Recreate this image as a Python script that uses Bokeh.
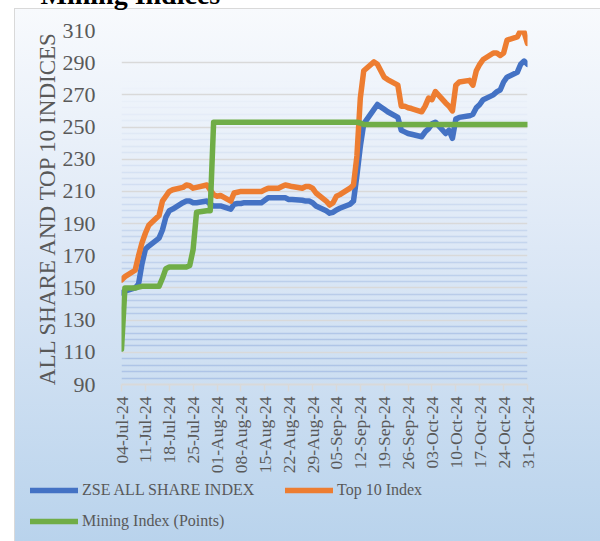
import math
import pandas as pd
from bokeh.plotting import figure
from bokeh.models import (Range1d, FixedTicker, DatetimeTickFormatter, Legend, LegendItem,
                          ColumnDataSource)
from bokeh.embed import file_html
from bokeh.resources import INLINE

# ---------------- data ----------------
dates = [
    "2024-07-04", "2024-07-05", "2024-07-08", "2024-07-09", "2024-07-10", "2024-07-11", "2024-07-12",
    "2024-07-15", "2024-07-16", "2024-07-17", "2024-07-18", "2024-07-19", "2024-07-22", "2024-07-23",
    "2024-07-24", "2024-07-25", "2024-07-26", "2024-07-29", "2024-07-30", "2024-07-31",
    "2024-08-01", "2024-08-02", "2024-08-05", "2024-08-06", "2024-08-07", "2024-08-08", "2024-08-09",
    "2024-08-14", "2024-08-15", "2024-08-16", "2024-08-19", "2024-08-20", "2024-08-21", "2024-08-22",
    "2024-08-23", "2024-08-26", "2024-08-27", "2024-08-28", "2024-08-29", "2024-08-30",
    "2024-09-02", "2024-09-03", "2024-09-04", "2024-09-05", "2024-09-06", "2024-09-09", "2024-09-10",
    "2024-09-11", "2024-09-12", "2024-09-13", "2024-09-16", "2024-09-17", "2024-09-18", "2024-09-19",
    "2024-09-20", "2024-09-23", "2024-09-24", "2024-09-25", "2024-09-26", "2024-09-27", "2024-09-30",
    "2024-10-01", "2024-10-02", "2024-10-03", "2024-10-04", "2024-10-07", "2024-10-08", "2024-10-09",
    "2024-10-10", "2024-10-11", "2024-10-14", "2024-10-15", "2024-10-16", "2024-10-17", "2024-10-18",
    "2024-10-21", "2024-10-22", "2024-10-23", "2024-10-24", "2024-10-25", "2024-10-28", "2024-10-29",
    "2024-10-30", "2024-10-31",
]

zse_all_share = [
    147, 148, 150, 152.5, 165, 174, 176, 181, 186, 194, 198, 199, 203, 204, 204, 203, 203, 204, 202, 201,
    201, 201, 199, 202, 202.5, 202.5, 203, 203, 204.5, 206, 206, 206, 206, 205, 205, 204.5, 204, 204, 203, 201,
    198, 196.5, 197, 198.5, 199.5, 202, 204, 220, 238, 252, 261, 264, 262.5, 261, 259.5, 256, 248, 247, 246, 245.5, 244,
    247, 249, 252, 253, 246, 248, 243, 255, 256, 257, 258, 262, 264, 267, 270, 272, 273, 278, 281, 284, 289, 291, 289,
]

top10_index = [
    155, 157, 161, 170, 178, 184, 189, 195, 204, 207, 210, 211, 212.5, 214, 213.5, 212, 212.5, 214, 211, 208,
    207, 207.5, 204, 209, 209.5, 210, 210, 210, 211, 212, 212, 213, 214, 213.5, 213, 212, 213, 213, 212, 209,
    204, 201.5, 203, 207, 208, 212, 214, 232, 268, 285, 290.5, 289, 285, 281, 279.5, 276, 263, 263, 262, 261.5, 259.5,
    263, 268, 267, 272, 265, 263, 260, 276, 278, 279, 276, 285, 289, 292, 296, 296, 294.5, 296, 304, 306, 310, 309, 302,
]

mining_index = [
    112, 150, 150, 150.5, 151, 151, 151, 151, 156, 162, 163, 163, 163, 163, 164, 174, 197, 198, 198, 253,
    253, 253, 253, 253, 253, 253, 253, 253, 253, 253, 253, 253, 253, 253, 253, 253, 253, 253, 253, 253,
    253, 253, 253, 253, 253, 253, 253, 253, 252.5, 251.6, 251.6, 251.6, 251.6, 251.6, 251.6, 251.6, 251.6,
    251.6, 251.6, 251.6, 251.6,
    251.6, 251.6, 251.6, 251.6, 251.6, 251.6, 251.6, 251.6, 251.6, 251.6, 251.6, 251.6, 251.6, 251.6, 251.6,
    251.6, 251.6, 251.6, 251.6, 251.6, 251.6, 251.6, 251.6,
]

tick_dates = ["2024-07-04", "2024-07-11", "2024-07-18", "2024-07-25", "2024-08-01", "2024-08-08",
              "2024-08-15", "2024-08-22", "2024-08-29", "2024-09-05", "2024-09-12", "2024-09-19",
              "2024-09-26", "2024-10-03", "2024-10-10", "2024-10-17", "2024-10-24", "2024-10-31"]

y_ticks = [90, 110, 130, 150, 170, 190, 210, 230, 250, 270, 290, 310]

series_names = ["ZSE ALL SHARE INDEX", "Top 10 Index", "Mining Index (Points)"]
series_colors = ["#4472C4", "#ED7D31", "#70AD47"]
series_fields = ["zse", "top", "mine"]
y_title = "ALL SHARE AND TOP 10 INDICES"
chart_title = "Mining Indices"

# ---------------- layout constants ----------------
FONT = "Liberation Serif"
TXT = "#595959"
W = 600
UP = 47                 # main figure pulled up so only the foot of the title shows
CARD_Y = 8              # page y of the card's top edge
CARD_X = 14             # page x of the card's left edge
CARD_H = 541 - CARD_Y
FRAME_TOP = 30          # page y of the 310 line
FRAME_BOTTOM = 386      # page y of the 90 line
SPLIT = 476             # page y where the legend strip starts
GRAD = "linear-gradient(180deg, #f8fafd 0%, #dde8f6 45%, #b9d3ec 100%)"


def card_bg(top_offset):
    """CSS background: white page, card edge lines and the card's gradient."""
    return (
        f"linear-gradient(#d9d9d9,#d9d9d9) {CARD_X}px {top_offset}px / 100% 1px no-repeat, "
        f"linear-gradient(#d9d9d9,#d9d9d9) {CARD_X}px {top_offset}px / 1px {CARD_H}px no-repeat, "
        f"{GRAD} {CARD_X}px {top_offset}px / 100% {CARD_H}px no-repeat, "
        "#ffffff"
    )


# ---------------- main figure ----------------
x = pd.to_datetime(dates)
src = ColumnDataSource(dict(x=x, zse=zse_all_share, top=top10_index, mine=mining_index))

HA = SPLIT + UP
p = figure(width=W, height=HA, x_axis_type="datetime",
           x_range=Range1d(pd.Timestamp(tick_dates[0]), pd.Timestamp(tick_dates[-1])),
           y_range=Range1d(y_ticks[0], y_ticks[-1]),
           output_backend="svg", toolbar_location=None,
           min_border_left=121, min_border_right=W - 121 - 406,
           min_border_top=FRAME_TOP + UP, min_border_bottom=SPLIT - FRAME_BOTTOM,
           margin=(-UP, 0, 0, 0))

p.title.text = chart_title
p.title.text_font = FONT
p.title.text_font_size = "28px"
p.title.text_font_style = "bold"
p.title.text_color = "#000000"
p.title.align = "left"
p.title.offset = -81
p.title.standoff = 41

p.background_fill_alpha = 0
p.border_fill_alpha = 0
p.outline_line_color = None
p.styles = {"background": card_bg(CARD_Y + UP)}

# grid
p.xgrid.grid_line_color = None
p.ygrid.ticker = FixedTicker(ticks=y_ticks)
p.ygrid.grid_line_color = "#d9d9d9"
p.ygrid.grid_line_width = 1.5

minor_y = [v for v in range(y_ticks[0], y_ticks[-1], 4) if (v - y_ticks[0]) % 20 != 0]
minor_alpha = [max(0.0, min(0.5, (280 - v) / 330)) for v in minor_y]
p.hspan(y=minor_y, line_color="#8eaadb", line_alpha=minor_alpha, line_width=1.5)

# y axis
p.yaxis.ticker = FixedTicker(ticks=y_ticks)
p.yaxis.axis_line_color = None
p.yaxis.major_tick_line_color = None
p.yaxis.minor_tick_line_color = None
p.yaxis.major_label_text_font = FONT
p.yaxis.major_label_text_font_size = "22px"
p.yaxis.major_label_text_color = TXT
p.yaxis.major_label_standoff = 20
p.yaxis.axis_label = y_title
p.yaxis.axis_label_text_font = FONT
p.yaxis.axis_label_text_font_size = "23px"
p.yaxis.axis_label_text_font_style = "normal"
p.yaxis.axis_label_text_color = TXT
p.yaxis.axis_label_standoff = 0

# x axis
p.xaxis.ticker = FixedTicker(ticks=[pd.Timestamp(d).value // 10**6 for d in tick_dates])
fmt = "%d-%b-%y"
p.xaxis.formatter = DatetimeTickFormatter(days=fmt, months=fmt, years=fmt, hours=fmt,
                                          hourmin=fmt, minutes=fmt, minsec=fmt, seconds=fmt,
                                          milliseconds=fmt, microseconds=fmt)
p.xaxis.major_label_orientation = math.pi / 2
p.xaxis.axis_line_color = "#d9d9d9"
p.xaxis.axis_line_width = 2
p.xaxis.major_tick_line_color = "#d9d9d9"
p.xaxis.major_tick_line_width = 1.5
p.xaxis.major_tick_out = 7
p.xaxis.major_tick_in = 0
p.xaxis.minor_tick_line_color = None
p.xaxis.major_label_text_font = FONT
p.xaxis.major_label_text_font_size = "17.5px"
p.xaxis.major_label_text_color = TXT
p.xaxis.major_label_standoff = 5

line_kw = dict(line_width=5.5, line_join="round", line_cap="round")
for f, c in zip(series_fields, series_colors):
    p.line("x", f, source=src, line_color=c, **line_kw)

# ---------------- legend strip (continuation of the card, separate root) ----------------
HB = 541 - SPLIT
q = figure(width=W, height=HB, output_backend="svg", toolbar_location=None,
           x_axis_location=None, y_axis_location=None,
           min_border_left=0, min_border_right=0, min_border_top=0, min_border_bottom=0,
           x_range=Range1d(0, 1), y_range=Range1d(0, 1))
q.grid.visible = False
q.background_fill_alpha = 0
q.border_fill_alpha = 0
q.outline_line_color = None
q.styles = {"background": card_bg(CARD_Y - SPLIT)}

# the same series, drawn in this strip (off its range) only to give the legend its swatches
proxies = [q.line("x", f, source=src, line_color=c, **line_kw)
           for f, c in zip(series_fields, series_colors)]

legend = Legend(items=[LegendItem(label=n, renderers=[r]) for n, r in zip(series_names, proxies)],
                location=(30, 7), orientation="horizontal", ncols=2,
                glyph_width=48, glyph_height=26, label_height=26, label_width=198,
                label_standoff=4, spacing=5, padding=0, margin=0,
                label_text_font=FONT, label_text_font_size="16px", label_text_color=TXT,
                background_fill_alpha=0, border_line_alpha=0)
q.add_layout(legend, "center")

open("out.html", "w").write(file_html([p, q], INLINE))
